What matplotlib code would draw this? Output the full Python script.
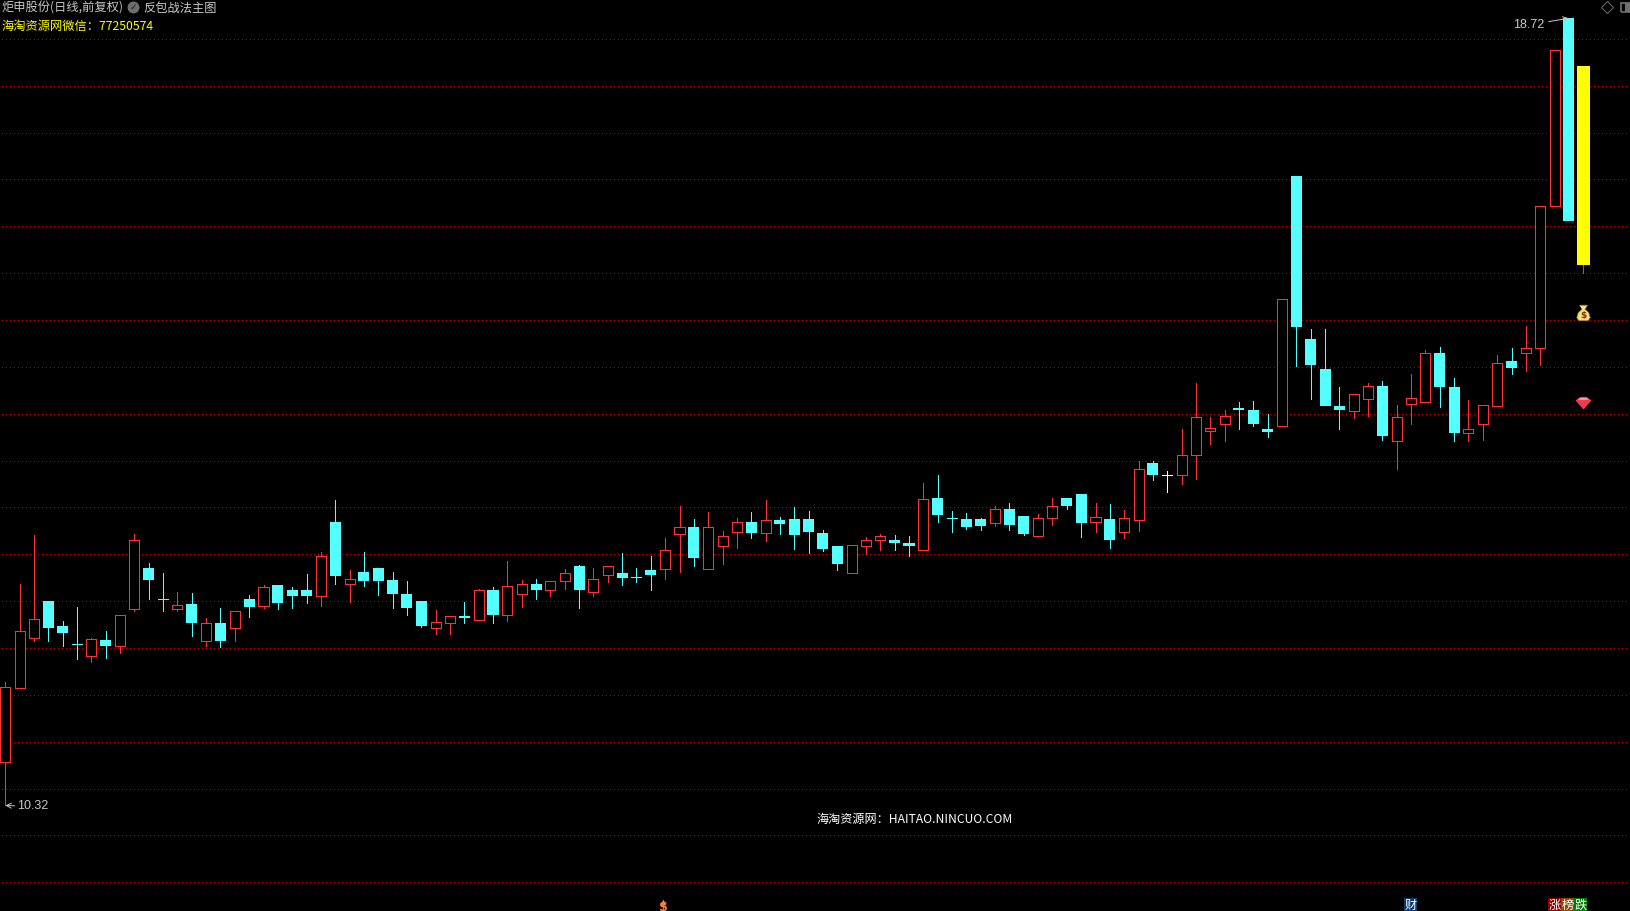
#!/usr/bin/env python3
import numpy as np
import matplotlib
matplotlib.use('Agg')
import matplotlib.pyplot as plt
from matplotlib.patches import Rectangle

plt.rcParams['font.family'] = ['Noto Sans CJK SC', 'DejaVu Sans']

# daily prices
opens = [10.78, 11.57, 12.11, 12.50, 12.23, 12.04, 11.92, 12.09, 12.02, 12.42,
         12.85, 12.52, 12.42, 12.47, 12.08, 12.27, 12.21, 12.52, 12.45, 12.67,
         12.62, 12.62, 12.55, 13.35, 12.68, 12.81, 12.85, 12.73, 12.58, 12.50,
         12.21, 12.27, 12.34, 12.30, 12.62, 12.35, 12.58, 12.68, 12.62, 12.71,
         12.88, 12.60, 12.78, 12.80, 12.76, 12.83, 12.84, 13.22, 13.29, 12.84,
         13.09, 13.24, 13.34, 13.23, 13.37, 13.38, 13.38, 13.23, 13.09, 12.80,
         13.09, 13.15, 13.15, 13.12, 13.05, 13.60, 13.39, 13.38, 13.38, 13.33,
         13.48, 13.41, 13.20, 13.39, 13.60, 13.64, 13.35, 13.38, 13.24, 13.37,
         13.97, 13.85, 13.85, 14.06, 14.32, 14.39, 14.56, 14.54, 14.34, 14.37,
         17.04, 15.30, 14.98, 14.58, 14.53, 14.66, 14.80, 14.21, 14.60, 14.63,
         15.15, 14.79, 14.29, 14.39, 14.58, 15.06, 15.15, 15.20, 16.72, 18.72,
         18.21]
closes = [11.58, 12.18, 12.31, 12.21, 12.16, 12.04, 12.10, 12.02, 12.35, 13.15,
          12.73, 12.52, 12.46, 12.27, 12.27, 12.07, 12.40, 12.44, 12.65, 12.48,
          12.56, 12.56, 12.98, 12.77, 12.74, 12.72, 12.72, 12.58, 12.43, 12.23,
          12.28, 12.34, 12.32, 12.62, 12.35, 12.66, 12.68, 12.62, 12.71, 12.80,
          12.62, 12.74, 12.88, 12.75, 12.76, 12.78, 13.05, 13.29, 12.96, 13.29,
          13.20, 13.35, 13.23, 13.37, 13.32, 13.21, 13.24, 13.06, 12.90, 13.10,
          13.15, 13.20, 13.12, 13.09, 13.59, 13.42, 13.39, 13.29, 13.30, 13.48,
          13.31, 13.22, 13.39, 13.52, 13.52, 13.33, 13.40, 13.15, 13.39, 13.91,
          13.85, 13.85, 14.06, 14.47, 14.35, 14.48, 14.54, 14.39, 14.30, 15.72,
          15.43, 15.02, 14.58, 14.54, 14.71, 14.80, 14.26, 14.46, 14.67, 15.15,
          14.79, 14.29, 14.34, 14.59, 15.04, 14.99, 15.20, 16.72, 18.38, 16.56,
          16.09]
highs = [11.64, 12.68, 13.21, 12.50, 12.29, 12.44, 12.11, 12.18, 12.35, 13.22,
         12.91, 12.80, 12.60, 12.59, 12.32, 12.43, 12.40, 12.57, 12.67, 12.67,
         12.65, 12.79, 13.02, 13.58, 12.83, 13.02, 12.85, 12.81, 12.72, 12.50,
         12.41, 12.34, 12.49, 12.63, 12.65, 12.93, 12.73, 12.74, 12.71, 12.84,
         12.89, 12.85, 12.88, 13.01, 12.85, 12.98, 13.17, 13.52, 13.38, 13.45,
         13.25, 13.39, 13.45, 13.58, 13.40, 13.50, 13.46, 13.26, 13.09, 13.10,
         13.18, 13.22, 13.21, 13.20, 13.76, 13.85, 13.46, 13.44, 13.39, 13.52,
         13.55, 13.41, 13.43, 13.60, 13.60, 13.64, 13.55, 13.54, 13.47, 14.00,
         14.00, 13.89, 14.34, 14.83, 14.46, 14.54, 14.63, 14.64, 14.50, 15.72,
         17.04, 15.40, 15.40, 14.79, 14.71, 14.83, 14.85, 14.59, 14.92, 15.18,
         15.21, 14.88, 14.65, 14.59, 15.13, 15.20, 15.44, 16.72, 18.38, 18.72,
         18.21]
lows = [10.32, 11.57, 12.07, 12.07, 12.02, 11.88, 11.85, 11.89, 11.95, 12.39,
        12.52, 12.40, 12.39, 12.13, 12.02, 12.01, 12.07, 12.33, 12.43, 12.42,
        12.43, 12.48, 12.45, 12.68, 12.49, 12.66, 12.57, 12.43, 12.35, 12.22,
        12.15, 12.15, 12.27, 12.30, 12.27, 12.29, 12.44, 12.52, 12.56, 12.63,
        12.43, 12.55, 12.70, 12.67, 12.70, 12.62, 12.74, 12.81, 12.88, 12.84,
        12.90, 13.07, 13.17, 13.14, 13.22, 13.06, 13.01, 13.04, 12.83, 12.80,
        13.00, 13.05, 13.05, 12.98, 13.05, 13.35, 13.24, 13.27, 13.26, 13.30,
        13.26, 13.21, 13.20, 13.31, 13.48, 13.18, 13.24, 13.07, 13.17, 13.25,
        13.79, 13.67, 13.75, 13.80, 14.18, 14.21, 14.34, 14.37, 14.25, 14.37,
        15.01, 14.66, 14.58, 14.34, 14.45, 14.48, 14.22, 13.91, 14.39, 14.63,
        14.57, 14.21, 14.21, 14.22, 14.58, 14.92, 14.96, 15.02, 16.72, 16.56,
        16.00]
grid_prices = [9.5, 10.0, 10.5, 11.0, 11.5, 12.0, 12.5, 13.0, 13.5, 14.0, 14.5,
               15.0, 15.5, 16.0, 16.5, 17.0, 17.5, 18.0, 18.5]
tags = ['财', '涨', '榜', '跌']
tag_left = [1404, 1548, 1561, 1574]
tag_colors = ['#0a3a6e', '#8a0000', '#8a4a00', '#007a00']

RED = '#ff3232'
CYAN = '#54ffff'
YELLOW = '#ffff00'
WHITE = '#ffffff'
GRAY = '#c8c8c8'
W, H = 1631, 911
px = 72 / 100

fig = plt.figure(figsize=(16.31, 9.11), dpi=100, facecolor='black')
ax = fig.add_axes([0, 0, 1, 1], facecolor='black')
ax.set_xlim(-0.369, 113.33)
ax.set_ylim(9.194, 18.915)
ax.axis('off')

for p in grid_prices:
    ax.plot([-0.23, 113.33], [p, p], color='#b80000', lw=1 * px,
            dashes=(1, 3), zorder=1, antialiased=False)

width = 0.70
last = len(opens) - 1
for i in range(len(opens)):
    o, c, h, l = opens[i], closes[i], highs[i], lows[i]
    top, bot = max(o, c), min(o, c)
    if i == last:
        col = YELLOW
    elif c > o:
        col = RED
    elif c == o and i == 81:
        col = WHITE
    else:
        col = CYAN
    wick = RED if i == last else col
    ax.plot([i, i], [top, h], color=wick, lw=1 * px, zorder=2,
            solid_capstyle='butt', antialiased=False)
    ax.plot([i, i], [l, bot], color=wick, lw=1 * px, zorder=2,
            solid_capstyle='butt', antialiased=False)
    if c == o:
        ax.plot([i - width / 2, i + width / 2], [c, c], color=col, lw=1 * px,
                zorder=3, solid_capstyle='butt', antialiased=False)
    elif c > o:
        ax.add_patch(Rectangle((i - width / 2, bot), width, top - bot,
                               facecolor='black', edgecolor=col,
                               lw=1 * px, zorder=3, antialiased=False))
    else:
        w = 0.88 if col == YELLOW else 0.77
        ax.add_patch(Rectangle((i - w / 2, bot), w, top - bot, facecolor=col,
                               edgecolor='none', zorder=3, antialiased=False))

ax.annotate('10.32', xy=(0, lows[0]), xytext=(0.85, lows[0] - 0.01), color=GRAY, fontsize=9,
            va='center', ha='left', family='Liberation Sans',
            arrowprops=dict(arrowstyle='->', color=GRAY, lw=0.7, shrinkA=0, shrinkB=0))
ax.annotate('18.72', xy=(109, highs[109]), xytext=(107.3, 18.65), color=GRAY, fontsize=9,
            va='center', ha='right', family='Liberation Sans',
            arrowprops=dict(arrowstyle='->', color=GRAY, lw=0.7, shrinkA=1, shrinkB=0))


# header, watermark and tags sit in figure pixels
def label(x, y, s, color, size=8.8, **kw):
    ax.text(x / W, 1 - y / H, s, color=color, fontsize=size, va='center',
            transform=ax.transAxes, zorder=6, **kw)


def dot(x, y, **kw):
    ax.plot([x / W], [1 - y / H], transform=ax.transAxes, clip_on=False, ls='none', **kw)


label(2, 8, '炬申股份(日线,前复权)', GRAY)
dot(133, 7, marker='o', ms=8.6, color='#6e6e6e', mec='none', zorder=5)
label(133, 7, '✓', '#1a1a1a', size=6.5, ha='center', family='DejaVu Sans', fontweight='bold')
label(143, 8, '反包战法主图', GRAY)
label(1, 26, '海淘资源网微信：77250574', YELLOW)
label(816, 819, '海淘资源网：HAITAO.NINCUO.COM', WHITE, size=8.7)

# window buttons, top right
dot(1607, 7, marker='D', ms=6, mfc='none', mec='#707070', mew=0.7)
ax.add_patch(Rectangle((1621 / W, 1 - 12 / H), 14 / W, 9 / H, transform=ax.transAxes,
                       facecolor='none', edgecolor='#707070', lw=1.2))
ax.add_patch(Rectangle((1625 / W, 1 - 12 / H), 6 / W, 9 / H, transform=ax.transAxes,
                       facecolor='#707070', edgecolor='none'))

# signal icons under the last bar
bag = [(-4, 8), (4, 8), (1.5, 4), (5, 1), (6.5, -4), (4.5, -7), (-4.5, -7), (-6.5, -4),
       (-5, 1), (-1.5, 4)]
gem = [(-8, 3), (-4, 6), (4, 6), (8, 3), (0, -6)]
gem_top = [(-8, 0), (-4, 3), (4, 3), (8, 0), (0, -1)]
ax.plot([last], [15.58], marker=bag, ms=12, color='#f6e27a', mec='#8a6a20', mew=0.5, zorder=4)
ax.text(last, 15.55, '$', color='#8a2a10', fontsize=6.5, ha='center', va='center', zorder=5,
        family='DejaVu Sans', fontweight='bold')
ax.plot([last], [14.62], marker=gem, ms=11.5, color='#f03a48', mec='none', zorder=4)
ax.plot([last], [14.655], marker=gem_top, ms=8, color='#ff9aa0', mec='none', zorder=5)

# tags along the bottom
for left, s, bg in zip(tag_left, tags, tag_colors):
    ax.add_patch(Rectangle((left / W, 0), 13 / W, 13 / H, transform=ax.transAxes,
                           facecolor=bg, edgecolor='none', zorder=5))
    label(left + 6.5, 905, s, WHITE, ha='center')
dot(663, 901.5, marker='^', ms=4, color='#ff8030', mec='none')
label(663, 907, '$', '#ff8030', size=9, ha='center', family='DejaVu Sans', fontweight='bold')

plt.savefig('out.png', facecolor='black')
